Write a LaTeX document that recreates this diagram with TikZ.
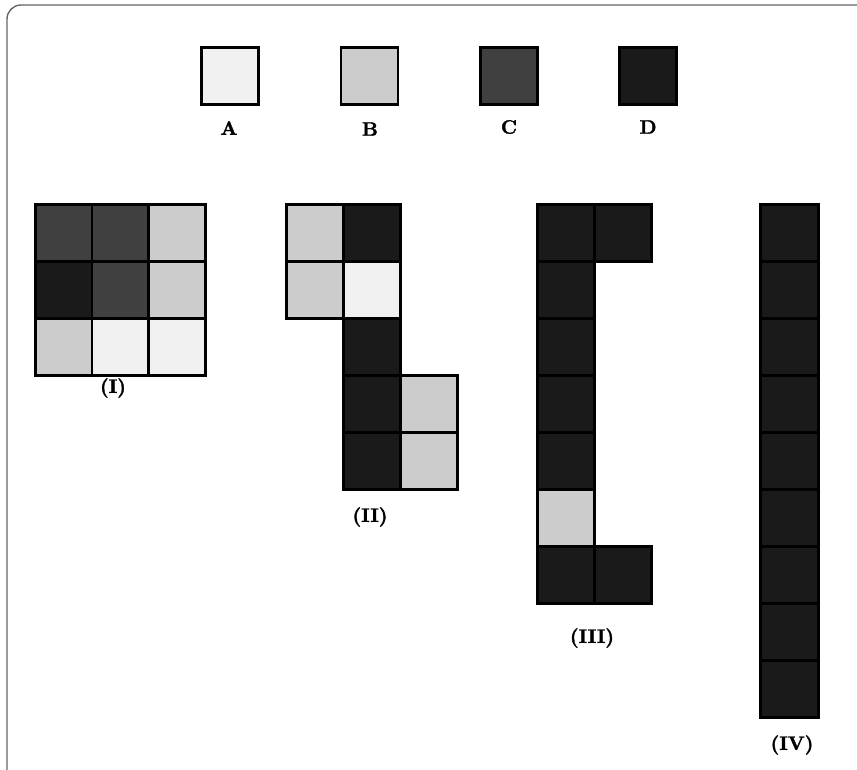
\documentclass[tikz,border=0pt]{standalone}
\usepackage{fontspec}
\newfontfamily\lblfont{lmroman10-bold}[Extension=.otf,FakeBold=1.6]
\definecolor{cA}{HTML}{F0F0F0}
\definecolor{cB}{HTML}{CCCCCC}
\definecolor{cC}{HTML}{404040}
\definecolor{cD}{HTML}{1A1A1A}
\definecolor{frame}{HTML}{666666}
\begin{document}
\begin{tikzpicture}[x=1pt,y=-1pt,
  cell/.style={draw=black,line width=2.6pt,minimum size=57pt,inner sep=0pt,anchor=north west},
  key/.style={draw=black,line width=2.6pt,minimum size=57pt,inner sep=0pt},
  lbl/.style={font=\fontsize{19.5}{22}\lblfont,inner sep=0pt}]
\useasboundingbox (0,0) rectangle (857,770);
\clip (0,0) rectangle (857,770);
\draw[frame,line width=1.4pt,rounded corners=14pt] (7,5) rectangle (880,800);
% legend
\node[key,fill=cA] (ka) at (230,76) {};
\node[key,fill=cB] (kb) at (369.5,76) {};
\node[key,fill=cC] (kc) at (509,76) {};
\node[key,fill=cD] (kd) at (648,76) {};
\node[lbl] (la) at (229,128) {A};
\node[lbl] (lb) at (370,129) {B};
\node[lbl] (lc) at (509,127) {C};
\node[lbl] (ld) at (648,127) {D};
% figure I
\node[cell,fill=cC] (i11) at (34,203) {};
\node[cell,fill=cC] (i12) at (90.7,203) {};
\node[cell,fill=cB] (i13) at (147.3,203) {};
\node[cell,fill=cD] (i21) at (34,260.3) {};
\node[cell,fill=cC] (i22) at (90.7,260.3) {};
\node[cell,fill=cB] (i23) at (147.3,260.3) {};
\node[cell,fill=cB] (i31) at (34,317.3) {};
\node[cell,fill=cA] (i32) at (90.7,317.3) {};
\node[cell,fill=cA] (i33) at (147.3,317.3) {};
\node[lbl] (l1) at (113,388) {(I)};
% figure II
\node[cell,fill=cB] (ii11) at (285,203) {};
\node[cell,fill=cD] (ii12) at (342,203) {};
\node[cell,fill=cB] (ii21) at (285,260) {};
\node[cell,fill=cA] (ii22) at (342,260) {};
\node[cell,fill=cD] (ii32) at (342,317) {};
\node[cell,fill=cD] (ii42) at (342,374) {};
\node[cell,fill=cB] (ii43) at (399,374) {};
\node[cell,fill=cD] (ii52) at (342,431) {};
\node[cell,fill=cB] (ii53) at (399,431) {};
\node[lbl] (l2) at (370,517) {(II)};
% figure III
\node[cell,fill=cD] (iii11) at (536,203) {};
\node[cell,fill=cD] (iii12) at (593,203) {};
\node[cell,fill=cD] (iii21) at (536,260) {};
\node[cell,fill=cD] (iii31) at (536,317) {};
\node[cell,fill=cD] (iii41) at (536,374) {};
\node[cell,fill=cD] (iii51) at (536,431) {};
\node[cell,fill=cB] (iii61) at (536,488) {};
\node[cell,fill=cD] (iii71) at (536,545) {};
\node[cell,fill=cD] (iii72) at (593,545) {};
\node[lbl] (l3) at (592,638) {(III)};
% figure IV
\foreach \r in {0,...,8}{
  \node[cell,fill=cD,minimum width=58pt] (iv\r) at (759,203+57*\r) {};
}
\node[lbl] (l4) at (792,745) {(IV)};
\end{tikzpicture}
\end{document}
